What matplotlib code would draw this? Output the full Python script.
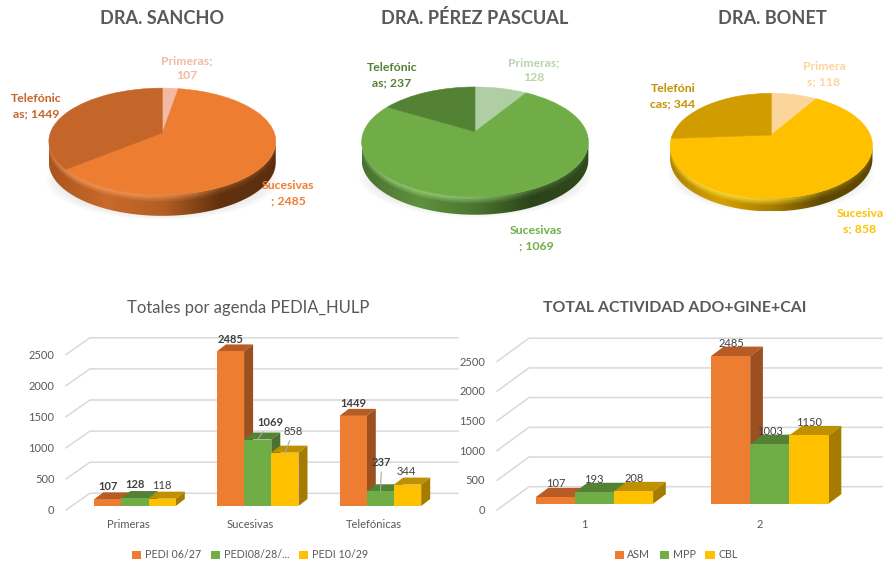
import matplotlib
matplotlib.use("Agg")
import matplotlib.pyplot as plt
import numpy as np
from matplotlib.colors import LinearSegmentedColormap, to_rgb
from matplotlib.patches import Patch, PathPatch, Polygon, Ellipse
from matplotlib.path import Path
from matplotlib.transforms import ScaledTranslation

# datos
pie_names = ["DRA. SANCHO", "DRA. PÉREZ PASCUAL", "DRA. BONET"]
pie_cats = ["Primeras", "Sucesivas", "Telefónicas"]
sancho = [107, 2485, 1449]
perez = [128, 1069, 237]
bonet = [118, 858, 344]

cats_left = ["Primeras", "Sucesivas", "Telefónicas"]
series_left = ["PEDI 06/27", "PEDI08/28/...", "PEDI 10/29"]
pedi_06 = [107, 2485, 1449]
pedi_08 = [128, 1069, 237]
pedi_10 = [118, 858, 344]

cats_right = ["1", "2"]
series_right = ["ASM", "MPP", "CBL"]
asm = [107, 2485]
mpp = [193, 1003]
cbl = [208, 1150]

value_ticks = [0, 500, 1000, 1500, 2000, 2500]

W, H = 886, 564
plt.rcParams["font.family"] = ["Lato", "DejaVu Sans"]
fig = plt.figure(figsize=(W / 100, H / 100), dpi=100)
GREY = "#595959"
DARK = "#404040"


def fx(x):
    return x / W


def fy(y):
    return 1 - y / H


def px_axes(left, top, right, bottom):
    a = fig.add_axes([fx(left), fy(bottom), (right - left) / W, (bottom - top) / H])
    a.patch.set_alpha(0)
    return a


def persp(xy, k):
    w = 1 + k * xy[:, 1]
    return np.column_stack([xy[:, 0] / w, xy[:, 1] / w])


def draw_pie(vals, cx, cy, xs, ys, k, depth, cols, ramp, glow):
    ax = px_axes(cx - 1.3 * xs, cy - 1.3 * ys, cx + 1.3 * xs, cy + 1.9 * ys)
    wedges, _ = ax.pie(vals, colors=cols, startangle=90, counterclock=False,
                       wedgeprops=dict(linewidth=0))
    for w in wedges:
        p = w.get_path()
        ax.add_patch(PathPatch(Path(persp(p.vertices, k), p.codes), fc=w.get_facecolor(),
                               ec=w.get_facecolor(), lw=0.4, zorder=6))
        w.remove()
    ax.set_aspect("auto")
    xl = (-1.3, 1.3)
    yl = (-1.9, 1.3)
    d = depth / ys

    # contorno de la cara y del canto
    t = np.linspace(0, 2 * np.pi, 361)
    ring = persp(np.column_stack([np.cos(t), np.sin(t)]), k)
    i0, i1 = ring[:, 0].argmin(), ring[:, 0].argmax()
    lower = ring[i0:] if i0 > i1 else ring[i0:i1 + 1]
    lower = lower[np.argsort(lower[:, 0])]
    rim = np.vstack([lower, (lower - [0, d])[::-1]])

    # sombra
    for s in np.linspace(1.04, 0.9, 6):
        ax.add_patch(Ellipse((0, lower[:, 1].min() * 0.32 - d - 0.1), 2 * s,
                             1.5 * s, fc="#d0d0d0", alpha=0.09, lw=0, zorder=1))

    cmap = LinearSegmentedColormap.from_list("rim", ramp)
    clip = Polygon(rim, transform=ax.transData, fc="none", lw=0)
    ax.add_patch(clip)
    im = ax.imshow(np.linspace(0, 1, 256)[None, :], cmap=cmap, aspect="auto",
                   extent=(lower[0, 0], lower[-1, 0], lower[:, 1].min() - d, lower[:, 1].max()),
                   zorder=3)
    im.set_clip_path(clip)

    # brillo del borde, en varias capas para que se difumine
    for n, (thick, a) in enumerate([(6.5, 0.25), (4.5, 0.35), (2.5, 0.5)]):
        band = np.vstack([lower, (lower - [0, thick / ys])[::-1]])
        clip2 = Polygon(band, transform=ax.transData, fc="none", lw=0)
        ax.add_patch(clip2)
        rgba = np.zeros((1, 256, 4))
        rgba[..., :3] = to_rgb(glow)
        rgba[..., 3] = a * np.interp(np.linspace(0, 1, 256), [0, 0.12, 0.4, 0.75, 1], [0.5, 1, 1, 0.25, 0.15])
        im2 = ax.imshow(rgba, aspect="auto",
                        extent=(lower[0, 0], lower[-1, 0], lower[:, 1].min() - 0.2, lower[:, 1].max()),
                        zorder=4 + n * 0.1)
        im2.set_clip_path(clip2)
    ax.set_xlim(*xl)
    ax.set_ylim(*yl)
    ax.axis("off")


orange_pie = ["#F4B9A3", "#ED7D31", "#C4652A"]
green_pie = ["#AFCEA3", "#70AD47", "#548235"]
yellow_pie = ["#FCD59A", "#FFC000", "#D19C00"]
draw_pie(sancho, 162.3, 133, 112, 52, 0.159, 21, orange_pie,
         ["#A9551F", "#C86A2A", "#B45E24", "#62320F", "#5C2E10"], "#F59A5C")
draw_pie(perez, 475, 131.7, 111.4, 53, 0.185, 18, green_pie,
         ["#4A7230", "#5F913D", "#4A7530", "#2B4319", "#2F4A1C"], "#98CF78")
draw_pie(bonet, 771.3, 135, 99, 50.3, 0.206, 13, yellow_pie,
         ["#B08400", "#D5A000", "#A87E00", "#5E4700", "#604800"], "#FFE23A")

pie_title_x = [162, 475, 772]
for name, x in zip(pie_names, pie_title_x):
    fig.text(fx(x), fy(18), name, ha="center", va="center", fontsize=13.1, color=GREY, weight="bold")

# etiquetas de las tartas, cortadas como en el original
pie_labels = [
    ("Primeras;\n107", 187, 68, "#F4B9A3"), ("Telefónic\nas; 1449", 36, 106, "#C4652A"),
    ("Sucesivas\n; 2485", 288, 193, "#ED7D31"),
    ("Primeras;\n128", 534, 70, "#B9D4AC"), ("Telefónic\nas; 237", 392, 75, "#548235"),
    ("Sucesivas\n; 1069", 536, 238, "#70AD47"),
    ("Primera\ns; 118", 824, 74, "#FCD59A"), ("Telefóni\ncas; 344", 673, 96, "#C49200"),
    ("Sucesiva\ns; 858", 860, 221, "#FFC000"),
]
for txt, x, y, c in pie_labels:
    fig.text(fx(x), fy(y), txt, ha="center", va="center", fontsize=8.8, color=c, weight="bold",
             linespacing=1.45)


def draw_bars(box, cats, groups, names, group0, pitch, bar_w, base, scale, depth, wall, grid_end,
              label_shift, pad_y, cat_shift, offsets, bold, leaders):
    left, top, right, bottom = box
    ax = px_axes(left, top, right, bottom)
    ax.set_xlim((left - group0) / pitch, (right - group0) / pitch)
    ax.set_ylim((base - bottom) / scale, (base - top) / scale)
    for s in ax.spines.values():
        s.set_visible(False)
    w = bar_w / pitch
    dx, dy = depth[0] / pitch, depth[1] / scale
    xf, xb, rise, zero = wall
    xf, xb = (xf - group0) / pitch, (xb - group0) / pitch
    zero_f, zero_b = (base - zero[0]) / scale, (base - zero[1]) / scale
    end = (grid_end - group0) / pitch
    for v in value_ticks:
        ax.plot([xf, xb, end], [zero_f + v, zero_b + v, zero_b + v], color="#D9D9D9", lw=1.1, zorder=1,
                clip_on=False, solid_joinstyle="miter")
    faces = [("#ED7D31", "#B85B24", "#9C4F1F"), ("#70AD47", "#548235", "#4B7030"),
             ("#FFC000", "#BF9000", "#A67C00")]
    x = np.arange(len(cats))
    n = 0
    for j, vals in enumerate(groups):
        front, roof, side = faces[j]
        pos = x + (j - 1) * w
        z = 2 + j
        ax.bar(pos, vals, width=w, color=front, zorder=z + 0.2, lw=0)
        for p, v in zip(pos, vals):
            r = p + w / 2
            l = p - w / 2
            ax.fill([l, r, r + dx, l + dx], [v, v, v + dy, v + dy], color=roof, lw=0, zorder=z)
            ax.fill([r, r + dx, r + dx, r], [0, dy, v + dy, v], color=side, lw=0, zorder=z)
    for j, vals in enumerate(groups):
        pos = x + (j - 1) * w
        for p, v in zip(pos, vals):
            ox, oy = offsets[n]
            arrow = dict(arrowstyle="-", color="#A6A6A6", lw=0.8, shrinkA=1, shrinkB=0) if leaders[n] else None
            ax.annotate(str(v), (p, v), xytext=(ox, oy), textcoords="offset pixels", ha="center",
                        va="center", fontsize=8, color=DARK, weight="bold" if bold[n] else "normal",
                        arrowprops=arrow, zorder=10, annotation_clip=False)
            n += 1
    ax.set_xticks(x, cats)
    ax.set_yticks(value_ticks)
    ax.tick_params(length=0, colors=GREY, labelsize=8)
    ax.tick_params(axis="y", pad=pad_y)
    ax.tick_params(axis="x", pad=2.5)
    shift = ScaledTranslation(0, -label_shift / 100, fig.dpi_scale_trans)
    for lab in ax.get_yticklabels():
        lab.set_transform(lab.get_transform() + shift)
    shift_x = ScaledTranslation(-cat_shift / 100, 0, fig.dpi_scale_trans)
    for lab in ax.get_xticklabels():
        lab.set_transform(lab.get_transform() + shift_x)
    for lab in ax.get_yticklabels() + ax.get_xticklabels():
        lab.set_color(GREY)
    return faces


# orden: serie a serie, categoria a categoria
faces = draw_bars((60, 330, 462, 516), cats_left, [pedi_06, pedi_08, pedi_10], series_left,
                  135.0, 122.7, 27.2, 506, 0.0622, (9, 7), (66, 90, 0, (510, 493.3)), 458, 4, 4, 7,
                  [(0, 12.6), (0, 12), (0, 12.6),
                   (0, 13.7), (12.3, 17.2), (1.3, 29),
                   (0, 13.4), (8.7, 21.6), (-1, 13.3)],
                  [1, 1, 1, 1, 1, 1, 0, 0, 0],
                  [0, 0, 0, 0, 1, 1, 0, 1, 0])
draw_bars((490, 330, 886, 516), cats_right, [asm, mpp, cbl], series_right,
          594.3, 175.5, 39.2, 503.7, 0.0594, (12.7, 9.5), (497, 529, 0, (510, 486.7)), 882, 6, 3.5, 10,
          [(0.5, 14), (0.4, 12.1),
           (0, 12.9), (0.3, 12.8),
           (0.3, 13.3), (0, 13.1)],
          [0, 0, 0, 0, 0, 0], [0, 0, 0, 0, 0, 0])

fig.text(fx(248), fy(308), "Totales por agenda PEDIA_HULP", ha="center", va="center", fontsize=12,
         color=GREY)
fig.text(fx(675), fy(308), "TOTAL ACTIVIDAD ADO+GINE+CAI", ha="center", va="center", fontsize=11.4,
         color=GREY, weight="bold")

colors = [f[0] for f in faces]
for names, cx in [(series_left, 250), (series_right, 676)]:
    handles = [Patch(fc=c, lw=0) for c in colors]
    fig.legend(handles, names, ncol=3, loc="center", bbox_to_anchor=(fx(cx), fy(555)), frameon=False,
               fontsize=7.7, handlelength=0.85, handleheight=0.85, handletextpad=0.35, columnspacing=0.9,
               labelcolor=GREY, borderpad=0)

fig.savefig("out.png", dpi=100)
